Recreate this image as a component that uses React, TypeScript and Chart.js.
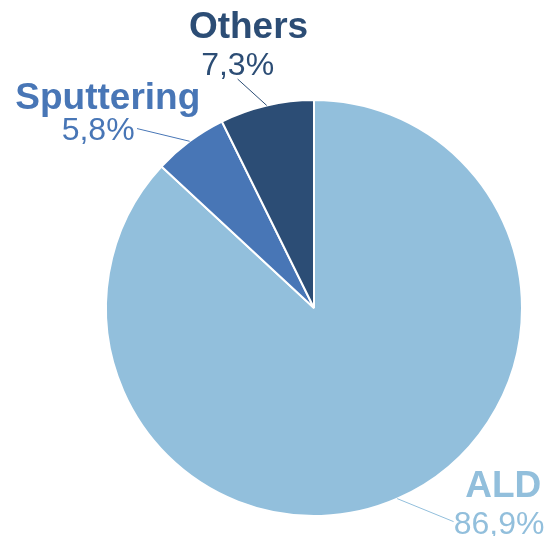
import React, { useEffect, useRef } from 'react';
import { Chart, registerables } from 'chart.js';

Chart.register(...registerables);

// ---- data ----
const categories: string[] = ['ALD', 'Sputtering', 'Others'];
const shares: number[] = [86.9, 5.8, 7.3];

// ---- style ----
const sliceColors: string[] = ['#92BFDC', '#4876B6', '#2C4D75'];
// offsets (px) relative to the mid point on each slice's outer edge
const labelLayout = [
  { line: [56.4, 23], name: [106.1, -1.7], pct: [101.9, 35] },
  { line: [-52.6, -12.7], name: [-81.8, -32.7], pct: [-91.5, -1] },
  { line: [-29.1, -26.4], name: [-18.2, -67.1], pct: [-29.1, -30.7] },
];

const fmtPct = (v: number) => v.toFixed(1).replace('.', ',') + '%';

const labelPlugin = {
  id: 'pieLabels',
  afterDraw(chart: any) {
    const ctx = chart.ctx as CanvasRenderingContext2D;
    const meta = chart.getDatasetMeta(0);
    meta.data.forEach((arc: any, i: number) => {
      const { x, y, startAngle, endAngle, outerRadius } = arc.getProps(
        ['x', 'y', 'startAngle', 'endAngle', 'outerRadius'],
        true
      );
      const mid = (startAngle + endAngle) / 2;
      const ex = x + Math.cos(mid) * outerRadius;
      const ey = y + Math.sin(mid) * outerRadius;
      const lay = labelLayout[i];
      const color = sliceColors[i];
      ctx.save();
      ctx.strokeStyle = color;
      ctx.lineWidth = 1;
      ctx.beginPath();
      ctx.moveTo(ex, ey);
      ctx.lineTo(ex + lay.line[0], ey + lay.line[1]);
      ctx.stroke();
      ctx.fillStyle = color;
      ctx.textAlign = 'center';
      ctx.textBaseline = 'alphabetic';
      ctx.font = 'bold 37px "Liberation Sans", Arial, sans-serif';
      ctx.fillText(categories[i], ex + lay.name[0], ey + lay.name[1]);
      ctx.font = '32px "Liberation Sans", Arial, sans-serif';
      ctx.fillText(fmtPct(shares[i]), ex + lay.pct[0], ey + lay.pct[1]);
      ctx.restore();
    });
  },
};

export default function App() {
  const ref = useRef<HTMLCanvasElement | null>(null);
  useEffect(() => {
    if (!ref.current) return;
    const chart = new Chart(ref.current, {
      type: 'pie',
      data: {
        labels: categories,
        datasets: [
          {
            data: shares,
            backgroundColor: sliceColors,
            borderColor: '#FFFFFF',
            borderWidth: 2,
          },
        ],
      },
      options: {
        responsive: false,
        animation: false,
        devicePixelRatio: 1,
        layout: { padding: { left: 105, top: 99, right: 26, bottom: 19 } },
        plugins: {
          legend: { display: false },
          tooltip: { enabled: false },
        },
      },
      plugins: [labelPlugin],
    });
    return () => chart.destroy();
  }, []);
  return (
    <div style={{ position: 'fixed', left: 0, top: 0, width: 549, height: 536, background: '#fff' }}>
      <canvas ref={ref} width={549} height={536} />
    </div>
  );
}
